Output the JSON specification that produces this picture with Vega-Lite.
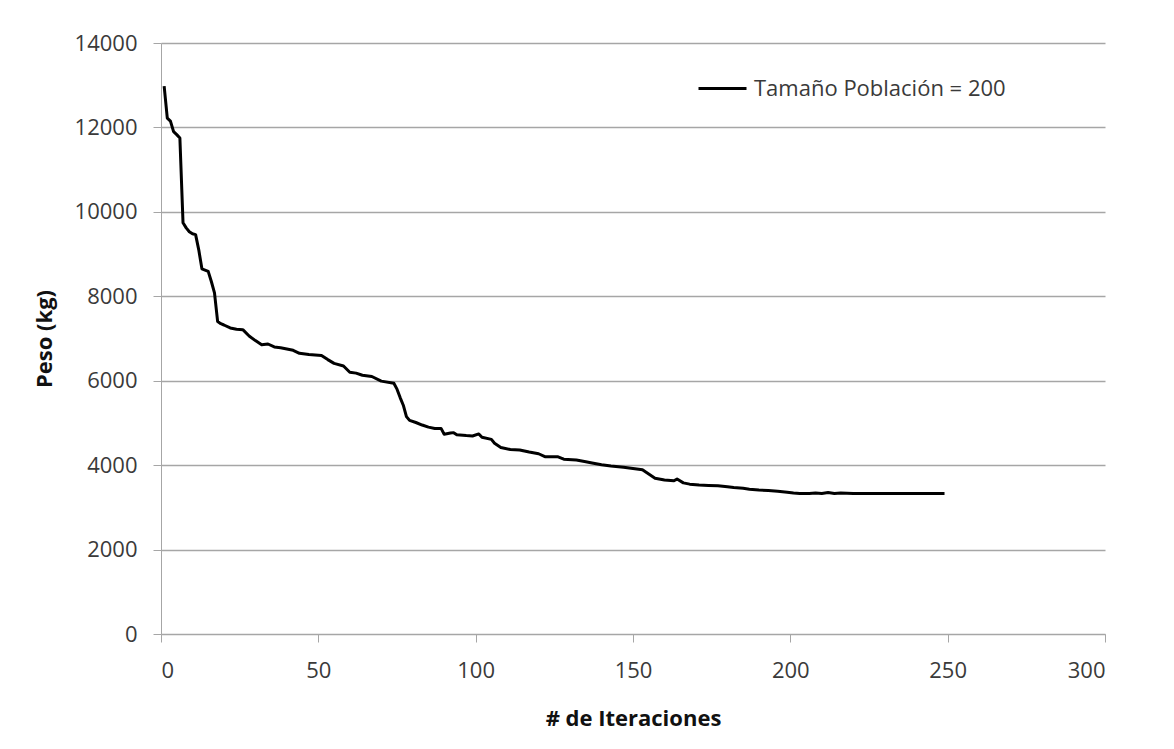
{
  "$schema": "https://vega.github.io/schema/vega-lite/v6.json",
  "autosize": {"type": "none"},
  "width": 944,
  "height": 591,
  "padding": {"left": 161, "top": 43, "right": 69, "bottom": 115},
  "background": "white",
  "config": {"view": {"stroke": null}, "font": "Open Sans"},
  "data": {"values": [
    {"iteracion": 1, "peso": 12980}, {"iteracion": 2, "peso": 12220}, {"iteracion": 3, "peso": 12150},
    {"iteracion": 4, "peso": 11900}, {"iteracion": 5, "peso": 11830}, {"iteracion": 6, "peso": 11750},
    {"iteracion": 7, "peso": 9740}, {"iteracion": 8, "peso": 9620}, {"iteracion": 9, "peso": 9530},
    {"iteracion": 10, "peso": 9480}, {"iteracion": 11, "peso": 9460}, {"iteracion": 12, "peso": 9100},
    {"iteracion": 13, "peso": 8650}, {"iteracion": 14, "peso": 8620}, {"iteracion": 15, "peso": 8590},
    {"iteracion": 16, "peso": 8350}, {"iteracion": 17, "peso": 8080}, {"iteracion": 18, "peso": 7400},
    {"iteracion": 19, "peso": 7350}, {"iteracion": 20, "peso": 7320}, {"iteracion": 22, "peso": 7250},
    {"iteracion": 24, "peso": 7220}, {"iteracion": 26, "peso": 7210}, {"iteracion": 28, "peso": 7060},
    {"iteracion": 30, "peso": 6950}, {"iteracion": 32, "peso": 6850}, {"iteracion": 34, "peso": 6870},
    {"iteracion": 36, "peso": 6800}, {"iteracion": 38, "peso": 6780}, {"iteracion": 40, "peso": 6750},
    {"iteracion": 42, "peso": 6720}, {"iteracion": 44, "peso": 6650}, {"iteracion": 47, "peso": 6620},
    {"iteracion": 51, "peso": 6600}, {"iteracion": 53, "peso": 6500}, {"iteracion": 55, "peso": 6410},
    {"iteracion": 58, "peso": 6350}, {"iteracion": 60, "peso": 6200}, {"iteracion": 62, "peso": 6180},
    {"iteracion": 64, "peso": 6130}, {"iteracion": 67, "peso": 6100}, {"iteracion": 70, "peso": 5990},
    {"iteracion": 74, "peso": 5940}, {"iteracion": 75, "peso": 5800}, {"iteracion": 76, "peso": 5600},
    {"iteracion": 77, "peso": 5420}, {"iteracion": 78, "peso": 5150}, {"iteracion": 79, "peso": 5060},
    {"iteracion": 81, "peso": 5010}, {"iteracion": 83, "peso": 4950}, {"iteracion": 85, "peso": 4900},
    {"iteracion": 87, "peso": 4870}, {"iteracion": 89, "peso": 4870}, {"iteracion": 90, "peso": 4730},
    {"iteracion": 92, "peso": 4760}, {"iteracion": 93, "peso": 4770}, {"iteracion": 94, "peso": 4720},
    {"iteracion": 97, "peso": 4700}, {"iteracion": 99, "peso": 4690}, {"iteracion": 101, "peso": 4740},
    {"iteracion": 102, "peso": 4660}, {"iteracion": 105, "peso": 4610}, {"iteracion": 106, "peso": 4520},
    {"iteracion": 108, "peso": 4420}, {"iteracion": 111, "peso": 4370}, {"iteracion": 114, "peso": 4360},
    {"iteracion": 117, "peso": 4310}, {"iteracion": 120, "peso": 4270}, {"iteracion": 122, "peso": 4200},
    {"iteracion": 126, "peso": 4200}, {"iteracion": 128, "peso": 4140}, {"iteracion": 132, "peso": 4120},
    {"iteracion": 135, "peso": 4080}, {"iteracion": 137, "peso": 4050}, {"iteracion": 140, "peso": 4010},
    {"iteracion": 143, "peso": 3980}, {"iteracion": 147, "peso": 3950}, {"iteracion": 150, "peso": 3920},
    {"iteracion": 153, "peso": 3890}, {"iteracion": 155, "peso": 3790}, {"iteracion": 157, "peso": 3690},
    {"iteracion": 160, "peso": 3650}, {"iteracion": 163, "peso": 3630}, {"iteracion": 164, "peso": 3670},
    {"iteracion": 166, "peso": 3580}, {"iteracion": 168, "peso": 3550}, {"iteracion": 171, "peso": 3530},
    {"iteracion": 174, "peso": 3520}, {"iteracion": 177, "peso": 3510}, {"iteracion": 180, "peso": 3490},
    {"iteracion": 182, "peso": 3470}, {"iteracion": 185, "peso": 3450}, {"iteracion": 187, "peso": 3430},
    {"iteracion": 190, "peso": 3410}, {"iteracion": 193, "peso": 3400}, {"iteracion": 196, "peso": 3380},
    {"iteracion": 199, "peso": 3360}, {"iteracion": 201, "peso": 3340}, {"iteracion": 203, "peso": 3330},
    {"iteracion": 206, "peso": 3330}, {"iteracion": 208, "peso": 3340}, {"iteracion": 210, "peso": 3330},
    {"iteracion": 212, "peso": 3350}, {"iteracion": 214, "peso": 3330}, {"iteracion": 216, "peso": 3340},
    {"iteracion": 220, "peso": 3330}, {"iteracion": 230, "peso": 3330}, {"iteracion": 240, "peso": 3330},
    {"iteracion": 249, "peso": 3330}
  ]},
  "mark": {"type": "line", "strokeWidth": 3, "strokeJoin": "round"},
  "encoding": {
    "x": {
      "field": "iteracion", "type": "quantitative",
      "scale": {"domain": [0, 300], "nice": false},
      "axis": {
        "title": "# de Iteraciones", "values": [0, 50, 100, 150, 200, 250, 300],
        "grid": false, "domainColor": "#a6a6a6", "tickColor": "#a6a6a6", "tickSize": 8,
        "labelFontSize": 22, "labelColor": "#3a3a3a", "labelPadding": 18,
        "titleFontSize": 22, "titleFontWeight": "bold", "titleColor": "#111111", "titlePadding": 27
      }
    },
    "y": {
      "field": "peso", "type": "quantitative",
      "scale": {"domain": [0, 14000], "nice": false},
      "axis": {
        "title": "Peso (kg)", "values": [0, 2000, 4000, 6000, 8000, 10000, 12000, 14000],
        "format": "d", "grid": true, "gridColor": "#a6a6a6", "gridWidth": 1.3,
        "domainColor": "#a6a6a6", "tickColor": "#a6a6a6", "tickSize": 8,
        "labelFontSize": 22, "labelColor": "#3a3a3a", "labelPadding": 16,
        "titleFontSize": 22, "titleFontWeight": "bold", "titleColor": "#111111", "titlePadding": 18
      }
    },
    "color": {
      "datum": "Tamaño Población = 200",
      "scale": {"range": ["black"]},
      "legend": {
        "title": null, "orient": "none", "legendX": 536, "legendY": 20,
        "symbolType": "stroke", "symbolStrokeWidth": 3, "symbolSize": 2304,
        "labelFontSize": 22, "labelColor": "#3a3a3a", "labelOffset": 6, "labelLimit": 500, "padding": 0
      }
    }
  }
}
